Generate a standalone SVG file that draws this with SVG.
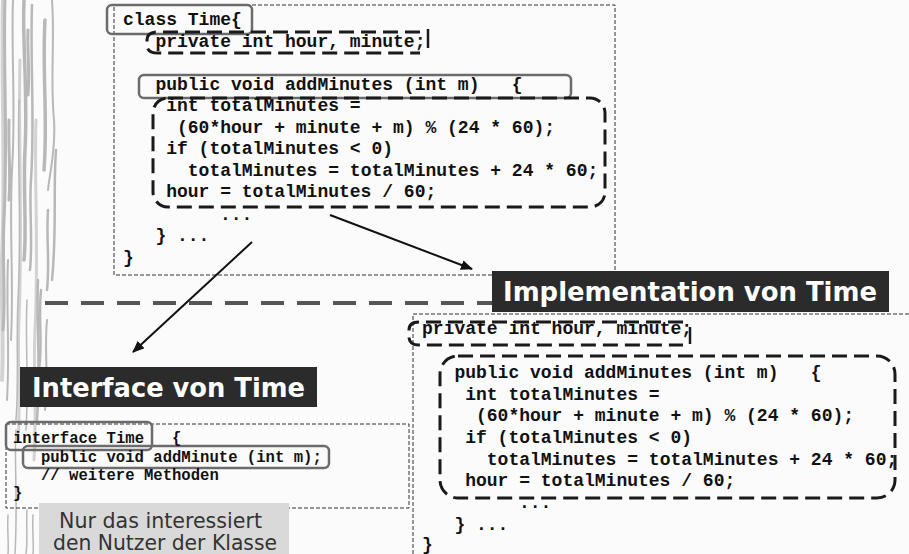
<svg xmlns="http://www.w3.org/2000/svg" width="909" height="554" viewBox="0 0 909 554">
  <style>
    .code { font-family: "Liberation Mono", "Courier New", monospace; font-weight: bold; font-size: 18px; fill: #111; }
    .code-s { font-family: "Liberation Mono", "Courier New", monospace; font-weight: bold; font-size: 15.6px; fill: #111; }
    .panel { fill: none; stroke: #333; stroke-width: 1; stroke-dasharray: 4 2; }
    .mark { fill: none; stroke: #6b6b6b; stroke-width: 2.5; }
    .scope { fill: none; stroke: #1a1a1a; stroke-width: 3; stroke-dasharray: 15 7; }
    .bar { fill: none; stroke: #1a1a1a; stroke-width: 2.5; }
    .tag { fill: #2b2b2b; }
    .tag-text { font-family: "DejaVu Sans", Verdana, sans-serif; font-weight: bold; font-size: 26px; fill: #ffffff; }
    .note-text { font-family: "DejaVu Sans", Verdana, sans-serif; font-size: 20.5px; fill: #333; }
    .streak { fill: none; stroke: #b8b8b8; stroke-linecap: round; }
    .streak-lt { fill: none; stroke: #d2d2d2; stroke-linecap: round; }
    .edge { fill: none; stroke: #111; stroke-width: 2; }
  </style>
  <defs>
    <marker id="arrow" viewBox="0 0 12 10" refX="11" refY="5" markerWidth="12" markerHeight="10" markerUnits="userSpaceOnUse" orient="auto">
      <path d="M0 0 L12 5 L0 10 Z" fill="#111"/>
    </marker>
  </defs>

  <rect width="909" height="554" fill="#fbfbfb"/>

  <!-- decorative bark texture along the left edge -->
  <g id="texture">
    <path class="streak-lt" stroke-width="4" d="M3 0 C1 80 6 160 2 260 C1 300 4 340 2 380"/>
    <path class="streak-lt" stroke-width="3" d="M20 60 C18 140 23 220 19 320 C17 360 21 400 18 440"/>
    <path class="streak-lt" stroke-width="3" d="M36 120 C34 180 39 250 35 330 C33 370 37 410 34 460"/>
    <path class="streak" stroke-width="3" d="M5 0 C3 60 8 140 4 220 C2 260 6 300 3 330"/>
    <path class="streak" stroke-width="2" d="M13 0 C11 50 16 110 12 170 C9 230 14 280 11 340"/>
    <path class="streak" stroke-width="3.5" d="M24 0 C22 40 28 90 25 150 C23 190 27 230 24 260"/>
    <path class="streak" stroke-width="2.5" d="M32 5 C30 60 35 120 31 180 C29 210 33 240 30 270"/>
    <path class="streak" stroke-width="3.5" d="M45 20 C42 70 48 120 44 170"/>
    <path class="streak" stroke-width="2" d="M52 0 C55 40 50 80 54 120 C56 150 50 170 48 190"/>
    <path class="streak" stroke-width="2.5" d="M56 150 C53 190 57 230 52 280"/>
    <path class="streak" stroke-width="1.5" d="M19 100 C17 160 22 220 18 300 C16 340 19 380 16 420"/>
    <path class="streak" stroke-width="2" d="M8 260 C6 310 10 350 7 400"/>
    <path class="streak" stroke-width="2.5" d="M38 280 C36 320 41 360 37 420"/>
    <path class="streak" stroke-width="1.5" d="M27 300 C25 340 29 380 26 430"/>
    <path class="streak" stroke-width="2.5" d="M41 290 C38 320 43 340 39 370"/>
    <path class="streak" stroke-width="2" d="M47 320 C44 350 49 380 45 410"/>
    <path class="streak" stroke-width="3" d="M28 30 C27 50 30 70 28 95"/>
    <path class="streak" stroke-width="3" d="M9 120 C8 150 11 170 9 200"/>
    <path class="streak" stroke-width="2.5" d="M48 210 C46 240 50 260 47 290"/>
    <path class="streak" stroke-width="1.5" d="M16 430 C14 460 18 500 15 554"/>
    <path class="streak" stroke-width="1.5" d="M27 510 C26 525 28 540 26 554"/>
    <path class="streak" stroke-width="1.5" d="M33 515 C32 530 34 545 33 554"/>
    <path class="streak" stroke-width="1.5" d="M8 515 C7 530 9 545 8 554"/>
  </g>

  <!-- class Time: full source -->
  <g id="class-time">
    <rect class="panel" x="114" y="5" width="501" height="270"/>
    <rect class="mark" x="107" y="5" width="145" height="29" rx="5"/>
    <path class="scope" d="M420 32 L158 32 Q147 32 147 40 L147 45 Q147 53 158 53 L420 53"/>
    <path class="bar" d="M428 29 V48"/>
    <rect class="mark" x="139" y="75" width="432" height="23" rx="5"/>
    <rect class="scope" x="153" y="98" width="452" height="109" rx="15"/>
    <text class="code" x="123" y="25">class Time{</text>
    <text class="code" x="155.4" y="47">private int hour, minute;</text>
    <text class="code" x="155.4" y="90" xml:space="preserve">public void addMinutes (int m)   {</text>
    <text class="code" x="166.2" y="111">int totalMinutes =</text>
    <text class="code" x="177" y="133">(60*hour + minute + m) % (24 * 60);</text>
    <text class="code" x="166.2" y="154">if (totalMinutes &lt; 0)</text>
    <text class="code" x="187.8" y="176">totalMinutes = totalMinutes + 24 * 60;</text>
    <text class="code" x="166.2" y="197">hour = totalMinutes / 60;</text>
    <text class="code" x="220" y="220">...</text>
    <text class="code" x="155.4" y="241">} ...</text>
    <text class="code" x="123" y="263">}</text>
  </g>

  <!-- divider between the class and its two views -->
  <g id="divider">
    <path d="M45 303 H492" fill="none" stroke="#555" stroke-width="4" stroke-dasharray="23 13"/>
  </g>

  <!-- implementation view -->
  <g id="implementation">
    <rect class="panel" x="413" y="314" width="520" height="260"/>
    <path class="scope" d="M683 322 L419 322 Q409 322 409 330 L409 337 Q409 345 419 345 L683 345"/>
    <path class="bar" d="M690 327 V344"/>
    <rect class="scope" x="440" y="356" width="455" height="142" rx="18"/>
    <text class="code" x="422" y="334">private int hour, minute;</text>
    <text class="code" x="454.4" y="378" xml:space="preserve">public void addMinutes (int m)   {</text>
    <text class="code" x="465.2" y="400">int totalMinutes =</text>
    <text class="code" x="476" y="421">(60*hour + minute + m) % (24 * 60);</text>
    <text class="code" x="465.2" y="443">if (totalMinutes &lt; 0)</text>
    <text class="code" x="486.8" y="465">totalMinutes = totalMinutes + 24 * 60;</text>
    <text class="code" x="465.2" y="486">hour = totalMinutes / 60;</text>
    <text class="code" x="519" y="508">...</text>
    <text class="code" x="454.4" y="530">} ...</text>
    <text class="code" x="422" y="550">}</text>
  </g>

  <g id="implementation-label">
    <rect class="tag" x="492" y="271" width="397" height="41"/>
    <text class="tag-text" x="503" y="301" textLength="374" lengthAdjust="spacingAndGlyphs">Implementation von Time</text>
  </g>

  <!-- interface view -->
  <g id="interface">
    <rect class="panel" x="6" y="424" width="403" height="84"/>
    <rect class="mark" x="6" y="422" width="146" height="28" rx="5"/>
    <rect class="mark" x="23" y="446" width="306" height="22" rx="5"/>
    <text class="code-s" x="13" y="443" xml:space="preserve">interface Time   {</text>
    <text class="code-s" x="41" y="462">public void addMinute (int m);</text>
    <text class="code-s" x="41" y="480">// weitere Methoden</text>
    <text class="code-s" x="13" y="498">}</text>
  </g>

  <g id="interface-label">
    <rect class="tag" x="20" y="367" width="297" height="40"/>
    <text class="tag-text" x="32" y="397" textLength="273" lengthAdjust="spacingAndGlyphs">Interface von Time</text>
  </g>

  <g id="note">
    <rect x="39" y="503" width="250" height="60" fill="#d9d9d9"/>
    <text class="note-text" x="59" y="528" textLength="203" lengthAdjust="spacingAndGlyphs">Nur das interessiert</text>
    <text class="note-text" x="53" y="550" textLength="224" lengthAdjust="spacingAndGlyphs">den Nutzer der Klasse</text>
  </g>

  <!-- connectors -->
  <g id="connectors">
    <path class="edge" d="M252 242 L133 352" marker-end="url(#arrow)"/>
    <path class="edge" d="M330 215 L472 269" marker-end="url(#arrow)"/>
  </g>
</svg>
